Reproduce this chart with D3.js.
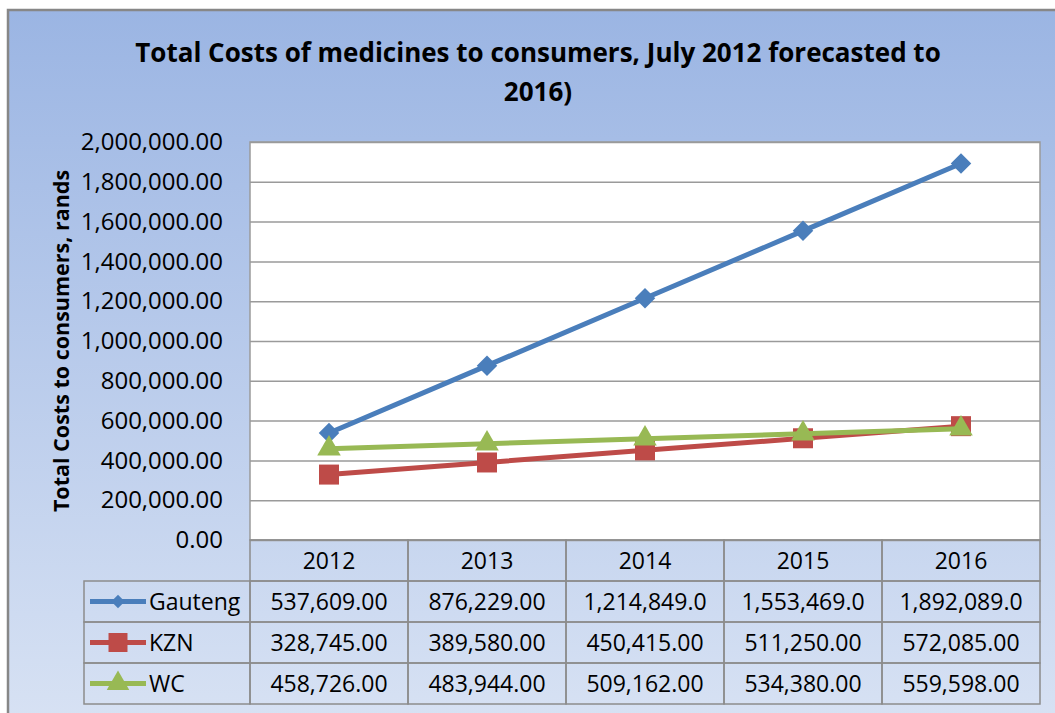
<!DOCTYPE html>
<html>
<head>
<meta charset="utf-8">
<script src="https://cdn.jsdelivr.net/npm/d3@7"></script>
<style>
  body { margin: 0; background: #fff; }
  text { font-family: "Open Sans", "DejaVu Sans", sans-serif; fill: #000; }
</style>
</head>
<body>
<div id="chart-area"></div>
<script>
// chart data
var years = ["2012", "2013", "2014", "2015", "2016"];
var seriesNames = ["Gauteng", "KZN", "WC"];
var gauteng = [537609, 876229, 1214849, 1553469, 1892089];
var kzn = [328745, 389580, 450415, 511250, 572085];
var wc = [458726, 483944, 509162, 534380, 559598];
var yTicks = [0, 200000, 400000, 600000, 800000, 1000000, 1200000, 1400000, 1600000, 1800000, 2000000];

var colors = ["#4a7ebb", "#be4b48", "#98b954"];
var series = [gauteng, kzn, wc];

var W = 1055, H = 713;
var plot = {left: 250, top: 142, right: 1040, bottom: 540};
var rowH = 41;

var svg = d3.select("#chart-area")
  .append("svg")
    .attr("width", W)
    .attr("height", H);

// background gradient (excel style)
var grad = svg.append("defs").append("linearGradient")
    .attr("id", "bg")
    .attr("x1", 0).attr("y1", 0).attr("x2", 0).attr("y2", 1);
grad.append("stop").attr("offset", "0%").attr("stop-color", "#9bb5e3");
grad.append("stop").attr("offset", "100%").attr("stop-color", "#d9e3f4");

svg.append("rect")
    .attr("x", 8).attr("y", 10)
    .attr("width", W + 20).attr("height", H + 20)
    .attr("fill", "url(#bg)")
    .attr("stroke", "#878787")
    .attr("stroke-width", 2.5);

// title
svg.append("text")
    .attr("x", 538).attr("y", 62)
    .attr("text-anchor", "middle")
    .attr("font-size", "26px")
    .attr("font-weight", "bold")
    .text("Total Costs of medicines to consumers, July 2012 forecasted to");
svg.append("text")
    .attr("x", 538).attr("y", 101)
    .attr("text-anchor", "middle")
    .attr("font-size", "26px")
    .attr("font-weight", "bold")
    .text("2016)");

// scales
var x = d3.scaleBand()
    .domain(years)
    .range([plot.left, plot.right]);

var y = d3.scaleLinear()
    .domain([0, 2000000])
    .range([plot.bottom, plot.top]);

// plot area
svg.append("rect")
    .attr("x", plot.left).attr("y", plot.top)
    .attr("width", plot.right - plot.left)
    .attr("height", plot.bottom - plot.top)
    .attr("fill", "#fff")
    .attr("stroke", "#9a9a9a")
    .attr("stroke-width", 1.5);

// gridlines + labels
var yAxis = d3.axisLeft(y)
    .tickValues(yTicks)
    .tickSize(-(plot.right - plot.left))
    .tickPadding(27)
    .tickFormat(d3.format(",.2f"));

var gy = svg.append("g")
    .attr("transform", "translate(" + plot.left + ",0)")
    .call(yAxis);
gy.select(".domain").remove();
gy.selectAll(".tick line").attr("stroke", "#9a9a9a").attr("stroke-width", 1.5);
gy.selectAll(".tick text")
    .attr("font-size", "24px")
    .attr("font-family", "Open Sans")
    .attr("fill", "#000");

// y axis title
svg.append("text")
    .attr("transform", "translate(69," + ((plot.top + plot.bottom) / 2) + ") rotate(-90)")
    .attr("text-anchor", "middle")
    .attr("font-size", "21.5px")
    .attr("font-weight", "bold")
    .text("Total Costs to consumers, rands");

// marker shapes: excel diamond = square turned 45deg
function marker(k, big) {
  var g = d3.symbol();
  if (k == 0) return g.type(d3.symbolSquare).size(big ? 210 : 90)();
  if (k == 1) return g.type(d3.symbolSquare).size(big ? 400 : 360)();
  return g.type(d3.symbolTriangle).size(big ? 240 : 220)();
}
function rot(k) { return k == 0 ? " rotate(45)" : ""; }

// lines + markers
var line = d3.line()
    .x(function(d, i) { return x(years[i]) + x.bandwidth() / 2; })
    .y(function(d) { return y(d); });

series.forEach(function(s, k) {
  svg.append("path")
      .datum(s)
      .attr("d", line)
      .attr("fill", "none")
      .attr("stroke", colors[k])
      .attr("stroke-width", 5)
      .attr("stroke-linejoin", "round");
  svg.selectAll(".m" + k)
      .data(s)
      .enter().append("path")
      .attr("class", "m" + k)
      .attr("transform", function(d, i) {
        return "translate(" + (x(years[i]) + x.bandwidth() / 2) + "," + y(d) + ")" + rot(k);
      })
      .attr("d", marker(k, true))
      .attr("fill", colors[k]);
});

// data table
var tbl = svg.append("g");
var gridCol = "#8c8c8c";
var tableLeft = 84;

// header row
years.forEach(function(yr) {
  tbl.append("rect")
      .attr("x", x(yr)).attr("y", plot.bottom)
      .attr("width", x.bandwidth()).attr("height", rowH)
      .attr("fill", "none").attr("stroke", gridCol).attr("stroke-width", 1.5);
  tbl.append("text")
      .attr("x", x(yr) + x.bandwidth() / 2)
      .attr("y", plot.bottom + rowH / 2 + 8)
      .attr("text-anchor", "middle")
      .attr("font-size", "23px")
      .text(yr);
});

// body rows, values wider than the cell get clipped like excel does
var fmt = d3.format(",.2f");
series.forEach(function(s, k) {
  var ry = plot.bottom + rowH * (k + 1);
  tbl.append("rect")
      .attr("x", tableLeft).attr("y", ry)
      .attr("width", plot.left - tableLeft).attr("height", rowH)
      .attr("fill", "none").attr("stroke", gridCol).attr("stroke-width", 1.5);
  tbl.append("line")
      .attr("x1", tableLeft + 6).attr("x2", tableLeft + 62)
      .attr("y1", ry + rowH / 2).attr("y2", ry + rowH / 2)
      .attr("stroke", colors[k]).attr("stroke-width", 5);
  tbl.append("path")
      .attr("transform", "translate(" + (tableLeft + 34) + "," + (ry + rowH / 2) + ")" + rot(k))
      .attr("d", marker(k, false))
      .attr("fill", colors[k]);
  tbl.append("text")
      .attr("x", tableLeft + 65)
      .attr("y", ry + rowH / 2 + 8)
      .attr("font-size", "23px")
      .text(seriesNames[k]);

  s.forEach(function(v, i) {
    tbl.append("rect")
        .attr("x", x(years[i])).attr("y", ry)
        .attr("width", x.bandwidth()).attr("height", rowH)
        .attr("fill", "none").attr("stroke", gridCol).attr("stroke-width", 1.5);
    tbl.append("text")
        .attr("x", x(years[i]) + x.bandwidth() / 2)
        .attr("y", ry + rowH / 2 + 8)
        .attr("text-anchor", "middle")
        .attr("font-size", "23px")
        .text(fmt(v).slice(0, 11));
  });
});
</script>
</body>
</html>
